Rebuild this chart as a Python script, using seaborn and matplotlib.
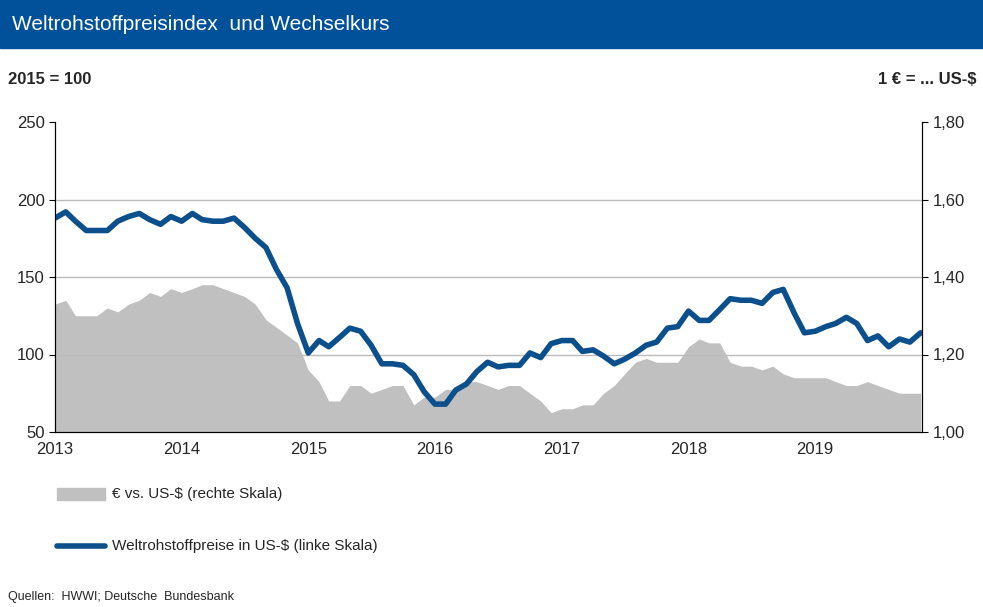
import numpy as np
import pandas as pd
import matplotlib
matplotlib.use("Agg")
import matplotlib.pyplot as plt
import seaborn as sns

sns.set_style("white")
plt.rcParams['font.family'] = ['Liberation Sans', 'DejaVu Sans']

dates = pd.date_range("2013-01-01", "2019-11-01", freq="MS")
rohstoff = [188,192,186,180,180,180,186,189,191,187,184,189,
            186,191,187,186,186,188,182,175,169,155,143,120,
            101,109,105,111,117,115,106,94,94,93,87,76,
            68,68,77,81,89,95,92,93,93,101,98,107,
            109,109,102,103,99,94,97,101,106,108,117,118,
            128,122,122,129,136,135,135,133,140,142,127,114,
            115,118,120,124,120,109,112,105,110,108,114]
eurusd = [1.33,1.34,1.30,1.30,1.30,1.32,1.31,1.33,1.34,1.36,1.35,1.37,
          1.36,1.37,1.38,1.38,1.37,1.36,1.35,1.33,1.29,1.27,1.25,1.23,
          1.16,1.13,1.08,1.08,1.12,1.12,1.10,1.11,1.12,1.12,1.07,1.09,
          1.09,1.11,1.11,1.13,1.13,1.12,1.11,1.12,1.12,1.10,1.08,1.05,
          1.06,1.06,1.07,1.07,1.10,1.12,1.15,1.18,1.19,1.18,1.18,1.18,
          1.22,1.24,1.23,1.23,1.18,1.17,1.17,1.16,1.17,1.15,1.14,1.14,
          1.14,1.14,1.13,1.12,1.12,1.13,1.12,1.11,1.10,1.10,1.10]
years = [2013, 2014, 2015, 2016, 2017, 2018, 2019]
left_ticks = [50, 100, 150, 200, 250]
right_ticks = [1.0, 1.2, 1.4, 1.6, 1.8]

BLUE = "#0b4f8c"
GRAY = "#c0c0c0"
df = pd.DataFrame({"date": dates, "r": rohstoff, "e": eurusd})

fig = plt.figure(figsize=(9.83, 6.07), dpi=100)
W, H = 983, 607
ax = fig.add_axes([55/W, 1-432/H, (922-55)/W, (432-122)/H])
ax2 = ax.twinx()
ax.set_zorder(2); ax.patch.set_visible(False)

ax2.fill_between(df["date"], 1.0, df["e"], color=GRAY, lw=0)
ax2.set_ylim(1.0, 1.8)
ax2.set_yticks(right_ticks)
ax2.set_yticklabels([f"{v:.2f}".replace(".", ",") for v in right_ticks], fontsize=12)

for y in [100, 150, 200]:
    ax.axhline(y, color="#bbbbbb", lw=1, zorder=0)
sns.lineplot(data=df, x="date", y="r", ax=ax, color=BLUE, lw=4)
ax.set_ylim(50, 250)
ax.set_yticks(left_ticks)
ax.set_yticklabels([str(v) for v in left_ticks], fontsize=12)
ax.set_xlim(pd.Timestamp("2013-01-01"), pd.Timestamp("2019-11-05"))
ax.set_xticks([pd.Timestamp(f"{y}-01-01") for y in years])
ax.set_xticklabels([str(y) for y in years], fontsize=12)
ax.set_xlabel(""); ax.set_ylabel("")
for a in (ax, ax2):
    a.spines["top"].set_visible(False)
    for s in ("left", "right", "bottom"):
        a.spines[s].set_color("black")
    a.tick_params(length=4, color="black", direction="out")
ax.tick_params(axis="x", direction="inout", length=8)

# title bar
fig.patches.append(matplotlib.patches.Rectangle((0, 1-48/H), 1, 48/H, transform=fig.transFigure,
                                                color="#00509a", zorder=0))
fig.text(12/W, 1-25/H, "Weltrohstoffpreisindex  und Wechselkurs", color="white", fontsize=15, va="center")
fig.text(8/W, 1-80/H, "2015 = 100", fontsize=12, fontweight="bold", va="center")
fig.text(976/W, 1-80/H, "1 € = ... US-$", fontsize=12, fontweight="bold", va="center", ha="right")

# legend
fig.patches.append(matplotlib.patches.Rectangle((57/W, 1-500/H), 48/W, 12/H, transform=fig.transFigure, color=GRAY))
fig.text(112/W, 1-494/H, "€ vs. US-$ (rechte Skala)", fontsize=11, va="center")
fig.lines.append(matplotlib.lines.Line2D([57/W, 105/W], [1-546/H]*2, transform=fig.transFigure, color=BLUE, lw=4))
fig.text(112/W, 1-546/H, "Weltrohstoffpreise in US-$ (linke Skala)", fontsize=11, va="center")
fig.text(8/W, 1-597/H, "Quellen:  HWWI; Deutsche  Bundesbank", fontsize=9, va="center")

fig.savefig("out.png", dpi=100)
